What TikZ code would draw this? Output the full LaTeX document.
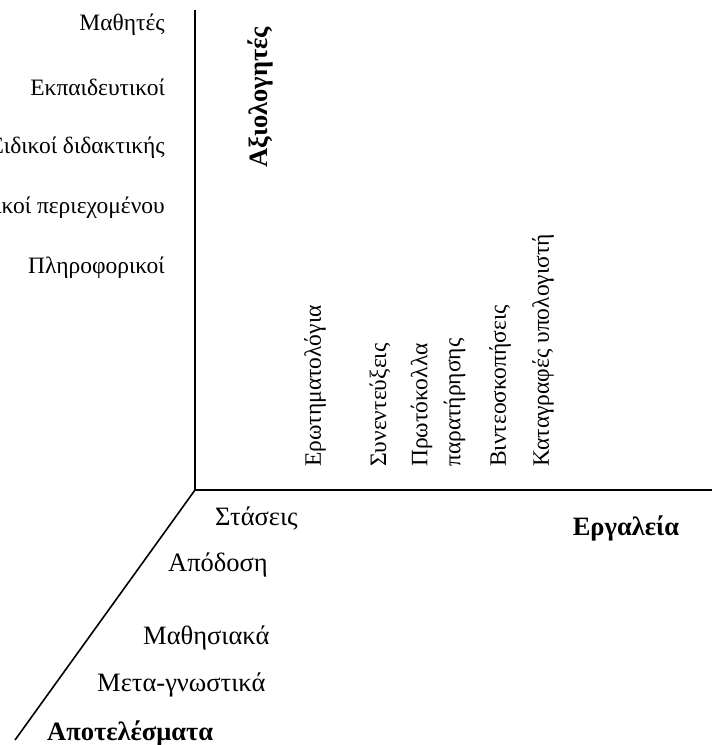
\documentclass[tikz,border=0pt]{standalone}
\usepackage{fontspec}
\setmainfont{Liberation Serif}
\usetikzlibrary{positioning}

\begin{document}
\begin{tikzpicture}[
             x = 1pt, y = -1pt,
       axis/.style = {line width=1.6pt},
      label/.style = {inner sep=0pt, font=\fontsize{23.5}{33}\selectfont},
    outcome/.style = {inner sep=0pt, anchor=west, font=\fontsize{26.5}{33}\selectfont},
      title/.style = {inner sep=0pt, font=\fontsize{26.5}{33}\selectfont\bfseries},
       tool/.style = {label, rotate=90, anchor=west, align=left}
                        ]
\useasboundingbox (0,0) rectangle (712,745);
\clip (0,0) rectangle (712,745);
% axes
    \coordinate (O) at (195,490);
    \coordinate (top) at (195,10);
    \coordinate (right) at (712,490);
    \coordinate (diag) at (15,740);
    \draw[axis] (top) -- (O) -- (right);
    \draw[axis] (O) -- (diag);
% evaluators
    \node[label, anchor=east] (stud) at (165,25)  {Μαθητές};
    \node[label, anchor=east] (teach) at (165,87)  {Εκπαιδευτικοί};
    \node[label, anchor=east] (didac) at (165,148) {Ειδικοί διδακτικής};
    \node[label, anchor=east] (cont) at (165,208) {Ειδικοί περιεχομένου};
    \node[label, anchor=east] (inf) at (165,268) {Πληροφορικοί};
    \node[title, rotate=90, anchor=west] (eval) at (260,168) {Αξιολογητές};
% tools
    \node[tool] (quest) at (315,467) {Ερωτηματολόγια};
    \node[tool] (interv) at (380,467) {Συνεντεύξεις};
    \node[tool] (obs) at (438,467) {Πρωτόκολλα\\παρατήρησης};
    \node[tool] (video) at (500,467) {Βιντεοσκοπήσεις};
    \node[tool] (logs) at (543,467) {Καταγραφές υπολογιστή};
    \node[title] (tools) at (626,528) {Εργαλεία};
% outcomes
    \node[outcome] (att) at (215,518) {Στάσεις};
    \node[outcome] (perf) at (168,565) {Απόδοση};
    \node[outcome] (learn) at (143,638) {Μαθησιακά};
    \node[outcome] (meta) at (97,685)  {Μετα-γνωστικά};
    \node[title, anchor=west] (res) at (47,733)  {Αποτελέσματα};
\end{tikzpicture}
\end{document}
